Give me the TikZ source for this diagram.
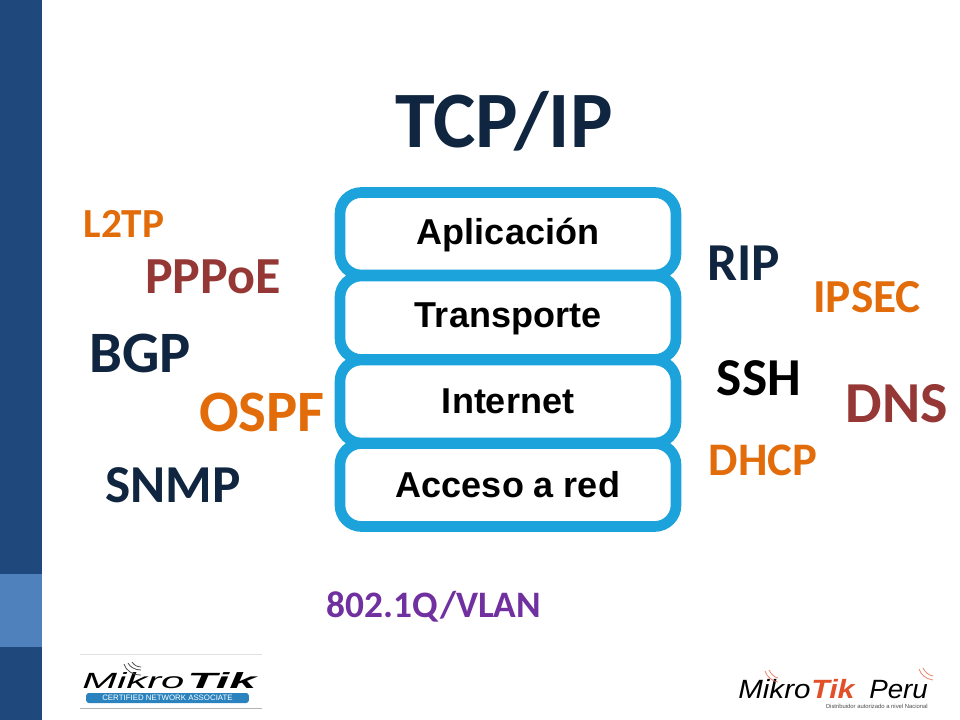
\documentclass[tikz,border=0pt]{standalone}
\usepackage{fontspec}
\setmainfont{Carlito}
\newfontfamily\boxfont{Liberation Sans}
\usetikzlibrary{positioning}
\definecolor{barblue}{HTML}{1F497D}
\definecolor{barlight}{HTML}{4F81BD}
\definecolor{navy}{HTML}{10253F}
\definecolor{layerblue}{HTML}{1CA3DB}
\definecolor{rust}{HTML}{953735}
\definecolor{amber}{HTML}{E36C0A}
\definecolor{violet}{HTML}{7030A0}
\definecolor{logored}{HTML}{E2502A}
\definecolor{logoblue}{HTML}{2A83BE}
\tikzset{
  proto/.style={inner sep=0pt,font=\bfseries\fontsize{#1}{#1}\selectfont},
  layerbox/.style={draw=layerblue,line width=8pt,rounded corners=16pt,fill=white},
  layertext/.style={inner sep=0pt,font=\boxfont\bfseries\fontsize{27}{27}\selectfont},
  logotext/.style={inner sep=0pt,anchor=base west,font=\boxfont\itshape\fontsize{#1}{#1}\selectfont},
  logobold/.style={inner sep=0pt,anchor=base west,font=\boxfont\bfseries\itshape\fontsize{#1}{#1}\selectfont}
}

\begin{document}
\begin{tikzpicture}[x=0.75pt,y=-0.75pt]
\useasboundingbox (0,0) rectangle (960,720);
\fill[white] (0,0) rectangle (960,720);

% side bar
\fill[barblue] (0,0) rectangle (42,720);
\fill[barlight] (0,574) rectangle (42,647);

\node[proto=60,text=navy] (title) at (504,121) {TCP/IP};

% layers
\draw[layerbox] (340,192.5) rectangle (676,275);
\draw[layerbox] (340,276) rectangle (676,359.5);
\draw[layerbox] (340,360) rectangle (676,443);
\draw[layerbox] (340,443.5) rectangle (676,526.5);
\node[layertext] (aplicacion) at (508,235) {Aplicación};
\node[layertext] (transporte) at (508,319) {Transporte};
\node[layertext] (internet) at (508,401) {Internet};
\node[layertext] (acceso) at (508,485) {Acceso a red};

% protocols left
\node[proto=31,text=amber] (l2tp) at (124,224) {L2TP};
\node[proto=39,text=rust] (pppoe) at (213,277) {PPPoE};
\node[proto=44,text=navy] (bgp) at (140,353) {BGP};
\node[proto=44,text=amber] (ospf) at (262,412) {OSPF};
\node[proto=40,text=navy] (snmp) at (173,485) {SNMP};

% protocols right
\node[proto=40,text=navy] (rip) at (744,263) {RIP};
\node[proto=35.5,text=amber] (ipsec) at (867,297) {IPSEC};
\node[proto=40,text=black] (ssh) at (759,378) {SSH};
\node[proto=43.5,text=rust] (dns) at (897,404) {DNS};
\node[proto=35,text=amber] (dhcp) at (763,460) {DHCP};
\node[proto=28,text=violet] (vlan) at (434,607) {802.1Q/VLAN};

% logo left
\draw[black!12] (80,654) -- (262,654);
\draw[black!30,line width=1pt] (80,708.5) -- (262,708.5);
\node[logotext=16.5] (mikroa) at (82,688) {\scalebox{1.9}[1]{Mikro}};
\node[logobold=16.5] (tika) at (187,688) {\scalebox{2.2}[1]{Tik}};
\draw[black!70,line width=0.6pt] (124,664) .. controls (126,671) and (133,675) .. (141,675);
\draw[black!70,line width=0.6pt] (128,663) .. controls (130,667) and (135,670) .. (141,670);
\draw[black!70,line width=0.6pt] (132,662) .. controls (134,665) and (137,667) .. (141,667);
\node[fill=logoblue,rounded corners=2pt,text=white,minimum width=122pt,minimum height=7.5pt,inner sep=0pt,font=\boxfont\fontsize{5.9}{6}\selectfont] (cna) at (167.5,698) {CERTIFIED NETWORK ASSOCIATE};

% logo right
\node[logotext=19.8] (mikrob) at (738,698) {\scalebox{1.12}[1]{Mikro}};
\node[logobold=19.8,text=logored] (tikb) at (811,698) {\scalebox{1.15}[1]{Tik}};
\node[logotext=19.8] (peru) at (869,698) {\scalebox{1.05}[1]{Peru}};
\node[inner sep=0pt,anchor=east,text=black!70,font=\boxfont\fontsize{4.4}{5}\selectfont] (distrib) at (928,706) {Distribuidor autorizado a nivel Nacional};
\draw[logored!70,line width=0.6pt] (765,671) .. controls (767,677) and (772,681) .. (778,682);
\draw[logored!70,line width=0.6pt] (769,670) .. controls (771,674) and (774,677) .. (778,678);
\draw[logored!70,line width=0.6pt] (919,669) .. controls (921,675) and (926,679) .. (933,680);
\draw[logored!70,line width=0.6pt] (923,668) .. controls (925,672) and (928,675) .. (933,676);
\end{tikzpicture}
\end{document}
